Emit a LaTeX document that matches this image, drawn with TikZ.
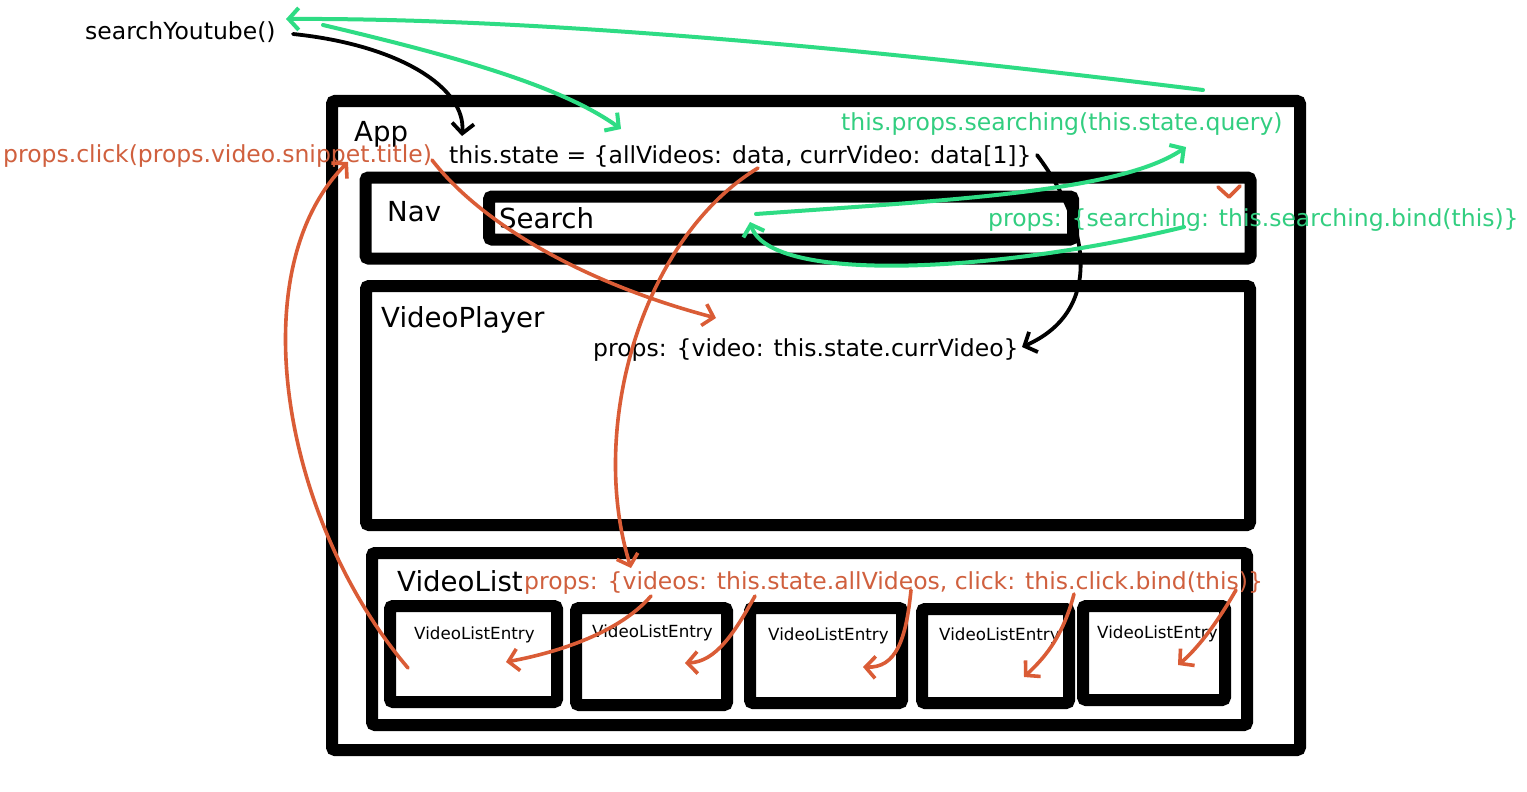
\documentclass[tikz,border=0pt]{standalone}
\usepackage{fontspec}
\setmainfont{DejaVu Sans}
\usetikzlibrary{arrows.meta}
\definecolor{grn}{RGB}{46,220,132}
\definecolor{grntxt}{RGB}{50,206,128}
\definecolor{org}{RGB}{218,92,54}
\definecolor{orgtxt}{RGB}{208,96,62}
\tikzset{
 box/.style={draw=black, line width=12pt, rounded corners=3pt, inner sep=0pt, outer sep=0pt},
 lbl/.style={font=\fontsize{27.6}{32}\selectfont, anchor=base west, inner sep=0pt},
 txt/.style={font=\fontsize{23.5}{28}\selectfont, anchor=base west, inner sep=0pt},
 smalltxt/.style={font=\fontsize{16.7}{20}\selectfont, anchor=base west, inner sep=0pt},
 barbtip/.style={-{Straight Barb[length=10pt,width=22pt]}},
 blkarrow/.style={draw=black, line width=3.8pt, line cap=round, line join=round, barbtip},
 grnarrow/.style={draw=grn, line width=4pt, line cap=round, line join=round, barbtip},
 orgarrow/.style={draw=org, line width=3.6pt, line cap=round, line join=round, barbtip},
}
\begin{document}
\begin{tikzpicture}[x=1pt,y=-1pt]
\useasboundingbox (0,0) rectangle (1527,792);
\fill[white] (0,0) rectangle (1527,792);

% boxes
\node[box, minimum width=968pt, minimum height=649pt] (app) at (816,425.5) {};
\node[box, minimum width=885pt, minimum height=81pt] (nav) at (808,218) {};
\node[box, minimum width=584pt, minimum height=43pt] (search) at (781,218) {};
\node[box, minimum width=884pt, minimum height=239pt] (player) at (808,405.5) {};
\node[box, minimum width=875pt, minimum height=172pt] (vlist) at (809.5,639) {};
\node[box, minimum width=167pt, minimum height=96pt] (e1) at (473.5,654) {};
\node[box, minimum width=151pt, minimum height=97pt] (e2) at (651.5,656.5) {};
\node[box, minimum width=152pt, minimum height=95pt] (e3) at (826,655.5) {};
\node[box, minimum width=147pt, minimum height=94pt] (e4) at (995.5,656) {};
\node[box, minimum width=142pt, minimum height=94pt] (e5) at (1154,653) {};

% texts
\node[txt] (syt) at (85,40) {searchYoutube()};
\node[lbl] (applbl) at (354,141) {App};
\node[txt] (state) at (449,163) {this.state = \{allVideos: data, currVideo: data[1]\}};
\node[txt, text=orgtxt] (click) at (3,162) {props.click(props.video.snippet.title)};
\node[txt, text=grntxt] (searching) at (841,130) {this.props.searching(this.state.query)};
\node[lbl] (navlbl) at (387,221) {Nav};
\node[lbl] (searchlbl) at (499,228) {Search};
\node[txt, text=grntxt] (sprops) at (988,226) {props: \{searching: this.searching.bind(this)\}};
\node[lbl] (vplbl) at (381,327) {VideoPlayer};
\node[txt] (vprops) at (593,356) {props: \{video: this.state.currVideo\}};
\node[lbl] (vllbl) at (397,591) {VideoList};
\node[txt, text=orgtxt] (vlprops) at (524,589) {props: \{videos: this.state.allVideos, click: this.click.bind(this)\}};
\node[smalltxt] (t1) at (414,639) {VideoListEntry};
\node[smalltxt] (t2) at (592,637) {VideoListEntry};
\node[smalltxt] (t3) at (768,640) {VideoListEntry};
\node[smalltxt] (t4) at (939,640) {VideoListEntry};
\node[smalltxt] (t5) at (1097,638) {VideoListEntry};

% connector end points
\coordinate (bA) at (293,34);
\coordinate (bAend) at (462,136);
\coordinate (bB) at (1037,155);
\coordinate (bBend) at (1022,347);
\coordinate (gA) at (1203,90);
\coordinate (gAend) at (286,19);
\coordinate (gB) at (323,25);
\coordinate (gBend) at (621,129);
\coordinate (gC) at (756,214);
\coordinate (gCend) at (1186,147);
\coordinate (gD) at (1184,227);
\coordinate (gDend) at (750,222);
\coordinate (oA) at (432,160);
\coordinate (oAend) at (716,318);
\coordinate (oB) at (758,168);
\coordinate (oBend) at (631,568);
\coordinate (oC) at (408,668);
\coordinate (oCend) at (348,162);
\coordinate (p1) at (651,596);
\coordinate (p1end) at (506,662);
\coordinate (p2) at (755,596);
\coordinate (p2end) at (685,663);
\coordinate (p3) at (911,590);
\coordinate (p3end) at (863,667);
\coordinate (p4) at (1074,594);
\coordinate (p4end) at (1024,677);
\coordinate (p5) at (1236,590);
\coordinate (p5end) at (1178,665);

% black connectors
\draw[blkarrow] (bA) .. controls (400,45) and (466,88) .. (bAend);
\draw[blkarrow] (bB) .. controls (1092,228) and (1102,312) .. (bBend);

% green connectors
\draw[grnarrow] (gA) .. controls (800,40) and (500,18) .. (gAend);
\draw[grnarrow] (gB) .. controls (450,55) and (560,85) .. (gBend);
\draw[grnarrow] (gC) .. controls (950,200) and (1120,192) .. (gCend);
\draw[grnarrow] (gD) .. controls (1000,272) and (770,285) .. (gDend);

% orange connectors
\draw[orgarrow] (oA) .. controls (480,222) and (580,282) .. (oAend);
\draw[orgarrow] (oB) .. controls (640,240) and (588,430) .. (oBend);
\draw[orgarrow] (oC) .. controls (282,520) and (240,270) .. (oCend);
\draw[orgarrow] (p1) .. controls (620,632) and (560,652) .. (p1end);
\draw[orgarrow] (p2) .. controls (735,632) and (716,662) .. (p2end);
\draw[orgarrow] (p3) .. controls (906,640) and (896,668) .. (p3end);
\draw[orgarrow] (p4) .. controls (1062,640) and (1042,660) .. (p4end);
\draw[orgarrow] (p5) .. controls (1216,625) and (1196,650) .. (p5end);
\draw[draw=org, line width=3.6pt, line cap=round, line join=round] (1218,187) -- (1229,197) -- (1240,186);
\end{tikzpicture}
\end{document}
